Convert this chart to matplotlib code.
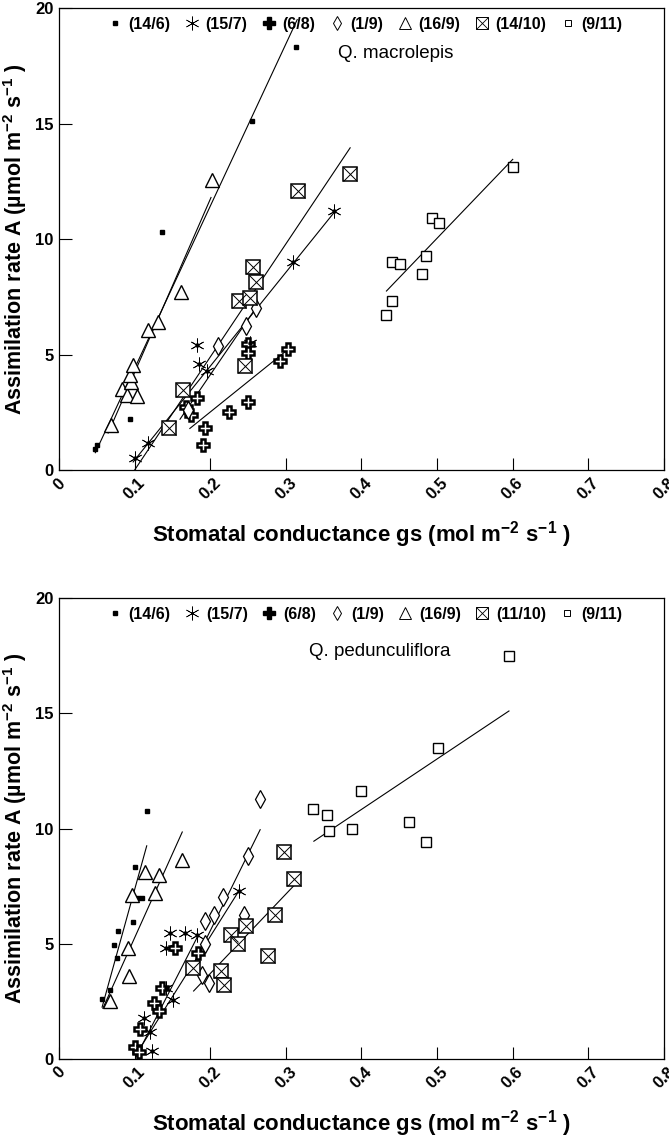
import matplotlib
matplotlib.use('Agg')
import matplotlib.pyplot as plt
from matplotlib.lines import Line2D
from matplotlib.legend_handler import HandlerTuple

plt.rcParams['font.family'] = ['Liberation Sans', 'DejaVu Sans']
plt.rcParams['mathtext.fontset'] = 'custom'
plt.rcParams['mathtext.rm'] = 'Liberation Sans'

# ---- data: Q. macrolepis (top panel) ----
mac_dates = ['14/6', '15/7', '6/8', '1/9', '16/9', '14/10', '9/11']
mac_x = {
    '14/6': [0.048, 0.05, 0.067, 0.094, 0.136, 0.255, 0.313],
    '15/7': [0.1, 0.118, 0.182, 0.185, 0.196, 0.252, 0.309, 0.364],
    '6/8': [0.19, 0.193, 0.225, 0.25, 0.292, 0.303, 0.174, 0.182, 0.168, 0.25, 0.25],
    '1/9': [0.17, 0.21, 0.247, 0.26],
    '16/9': [0.069, 0.083, 0.09, 0.095, 0.094, 0.098, 0.103, 0.118, 0.131, 0.161, 0.202],
    '14/10': [0.146, 0.164, 0.246, 0.238, 0.252, 0.26, 0.257, 0.316, 0.385],
    '9/11': [0.433, 0.44, 0.44, 0.451, 0.48, 0.485, 0.493, 0.503, 0.6],
}
mac_y = {
    '14/6': [0.9, 1.1, 1.8, 2.2, 10.3, 15.1, 18.3],
    '15/7': [0.5, 1.17, 5.4, 4.6, 4.3, 5.5, 9.0, 11.2],
    '6/8': [1.1, 1.8, 2.5, 2.95, 4.7, 5.25, 2.4, 3.1, 2.75, 5.45, 5.05],
    '1/9': [2.6, 5.35, 6.25, 7.0],
    '16/9': [1.95, 3.5, 3.25, 3.8, 4.1, 4.55, 3.2, 6.06, 6.4, 7.7, 12.55],
    '14/10': [1.8, 3.45, 4.5, 7.3, 7.45, 8.15, 8.8, 12.1, 12.8],
    '9/11': [6.7, 7.3, 9.0, 8.9, 8.5, 9.25, 10.9, 10.7, 13.1],
}
# regression lines: (x start, x end), (y start, y end)
mac_fit_x = {'14/6': [0.048, 0.315], '15/7': [0.098, 0.365], '6/8': [0.173, 0.302],
             '1/9': [0.16, 0.262], '16/9': [0.065, 0.201], '14/10': [0.1, 0.385],
             '9/11': [0.433, 0.6]}
mac_fit_y = {'14/6': [0.75, 19.5], '15/7': [0.35, 11.2], '6/8': [1.8, 5.2],
             '1/9': [2.2, 7.1], '16/9': [1.6, 11.8], '14/10': [0.0, 13.95],
             '9/11': [7.75, 13.45]}

# ---- data: Q. pedunculiflora (bottom panel) ----
ped_dates = ['14/6', '15/7', '6/8', '1/9', '16/9', '11/10', '9/11']
ped_x = {
    '14/6': [0.057, 0.067, 0.073, 0.077, 0.078, 0.098, 0.1, 0.104, 0.11, 0.116],
    '15/7': [0.113, 0.12, 0.123, 0.141, 0.141, 0.147, 0.151, 0.166, 0.183, 0.238],
    '6/8': [0.1, 0.106, 0.107, 0.126, 0.132, 0.136, 0.153, 0.184],
    '1/9': [0.189, 0.193, 0.193, 0.199, 0.205, 0.217, 0.245, 0.25, 0.266],
    '16/9': [0.067, 0.091, 0.093, 0.096, 0.114, 0.127, 0.132, 0.163],
    '11/10': [0.177, 0.214, 0.218, 0.228, 0.237, 0.247, 0.276, 0.286, 0.298, 0.311],
    '9/11': [0.336, 0.354, 0.357, 0.388, 0.4, 0.463, 0.485, 0.501, 0.595],
}
ped_y = {
    '14/6': [2.6, 3.0, 4.95, 4.4, 5.55, 5.95, 8.35, 7.0, 7.0, 10.75],
    '15/7': [1.8, 1.15, 0.35, 4.8, 3.1, 5.45, 2.55, 5.45, 5.4, 7.3],
    '6/8': [0.5, 0.3, 1.3, 2.45, 2.1, 3.1, 4.8, 4.6],
    '1/9': [3.65, 5.0, 6.0, 3.3, 6.25, 7.05, 6.25, 8.8, 11.3],
    '16/9': [2.5, 4.8, 3.6, 7.1, 8.1, 7.2, 8.0, 8.65],
    '11/10': [3.95, 3.8, 3.2, 5.4, 5.0, 5.75, 4.45, 6.25, 9.0, 7.8],
    '9/11': [10.85, 10.6, 9.9, 10.0, 11.65, 10.3, 9.4, 13.5, 17.5],
}
ped_fit_x = {'14/6': [0.057, 0.116], '15/7': [0.103, 0.238], '6/8': [0.102, 0.183],
             '1/9': [0.187, 0.266], '16/9': [0.058, 0.163], '11/10': [0.178, 0.31],
             '9/11': [0.337, 0.595]}
ped_fit_y = {'14/6': [2.25, 9.25], '15/7': [0.25, 7.3], '6/8': [0.1, 5.3],
             '1/9': [4.7, 9.95], '16/9': [2.2, 9.85], '11/10': [2.95, 7.5],
             '9/11': [9.45, 15.1]}

x_ticks = [0, 0.1, 0.2, 0.3, 0.4, 0.5, 0.6, 0.7, 0.8]
x_ticklabels = ['0', '0.1', '0.2', '0.3', '0.4', '0.5', '0.6', '0.7', '0.8']
y_ticks = [0, 5, 10, 15, 20]

asterisk = (6, 2, 0)
# plot style per marker slot (same order in both panels)
styles = [
    dict(marker='s', ms=3.2, mfc='black', mec='black'),
    dict(marker=asterisk, ms=10, mfc='black', mec='black', mew=0.6),
    dict(marker='P', ms=8.5, mfc='white', mec='black', mew=1.8),
    dict(marker='d', ms=9, mfc='white', mec='black', mew=0.9),
    dict(marker='^', ms=10, mfc='white', mec='black', mew=1.0),
    'boxx',
    dict(marker='s', ms=6.5, mfc='white', mec='black', mew=1.0),
]


def draw(ax, dates, xs, ys, fx, fy, title, title_xy):
    for date, st in zip(dates, styles):
        ax.plot(fx[date], fy[date], color='black', lw=0.8, zorder=2)
        if st == 'boxx':
            ax.plot(xs[date], ys[date], ls='none', marker='s', ms=10, mfc='white',
                    mec='black', mew=1.1, zorder=3)
            ax.plot(xs[date], ys[date], ls='none', marker='x', ms=10, mec='black',
                    mew=0.7, zorder=4)
        else:
            ax.plot(xs[date], ys[date], ls='none', zorder=3, **st)
        if date == '15/7':
            ax.plot(xs[date], ys[date], ls='none', marker='o', ms=2.2, color='black', zorder=4)

    # legend row
    handles = [
        Line2D([], [], ls='none', marker='s', ms=3, color='black'),
        Line2D([], [], ls='none', marker=asterisk, ms=10, color='black', mew=0.5),
        Line2D([], [], ls='none', marker='P', ms=9, color='black'),
        Line2D([], [], ls='none', marker='d', ms=7, mfc='white', mec='black', mew=0.7),
        Line2D([], [], ls='none', marker='^', ms=8, mfc='white', mec='black', mew=0.7),
        (Line2D([], [], ls='none', marker='s', ms=8, mfc='white', mec='black', mew=0.7),
         Line2D([], [], ls='none', marker='x', ms=8, mec='black', mew=0.6)),
        Line2D([], [], ls='none', marker='s', ms=5, mfc='white', mec='black', mew=0.7),
    ]
    labels = ['(%s)' % d for d in dates]
    ax.legend(handles, labels, ncol=7, loc='upper center', bbox_to_anchor=(0.505, 1.012),
              frameon=False, handlelength=1.0, handletextpad=0.35, columnspacing=0.85,
              prop={'weight': 'bold', 'size': 11.5},
              handler_map={tuple: HandlerTuple(ndivide=1, pad=0)})
    ax.text(title_xy[0], title_xy[1], title, fontsize=13.5, ha='left', va='center')

    ax.set_xlim(0, 0.8)
    ax.set_ylim(0, 20)
    ax.set_xticks(x_ticks)
    ax.set_xticklabels(x_ticklabels, rotation=45, ha='center', va='top',
                       fontsize=12, fontweight='bold')
    ax.set_yticks(y_ticks)
    ax.set_yticklabels([str(v) for v in y_ticks], fontsize=12, fontweight='bold')
    ax.tick_params(direction='in', length=9, width=0.8, pad=4)
    for s in ax.spines.values():
        s.set_linewidth(0.9)
    ax.set_xlabel(r'Stomatal conductance gs (mol m$^{\mathregular{-2}}$ s$^{\mathregular{-1}}$ )',
                  fontsize=16, fontweight='bold', labelpad=12)
    ax.set_ylabel('Assimilation rate A (\u00b5mol m$^{\\mathregular{-2}}$ s$^{\\mathregular{-1}}$ )',
                  fontsize=15.5, fontweight='bold', labelpad=4)


fig = plt.figure(figsize=(6.69, 11.37), dpi=100)
ax1 = fig.add_axes([0.0882, 0.5866, 0.9043, 0.4063])
ax2 = fig.add_axes([0.0882, 0.0686, 0.9043, 0.4054])

draw(ax1, mac_dates, mac_x, mac_y, mac_fit_x, mac_fit_y, 'Q. macrolepis', (0.369, 18.05))
draw(ax2, ped_dates, ped_x, ped_y, ped_fit_x, ped_fit_y, 'Q. pedunculiflora', (0.33, 17.7))

fig.savefig('out.png', dpi=100)
